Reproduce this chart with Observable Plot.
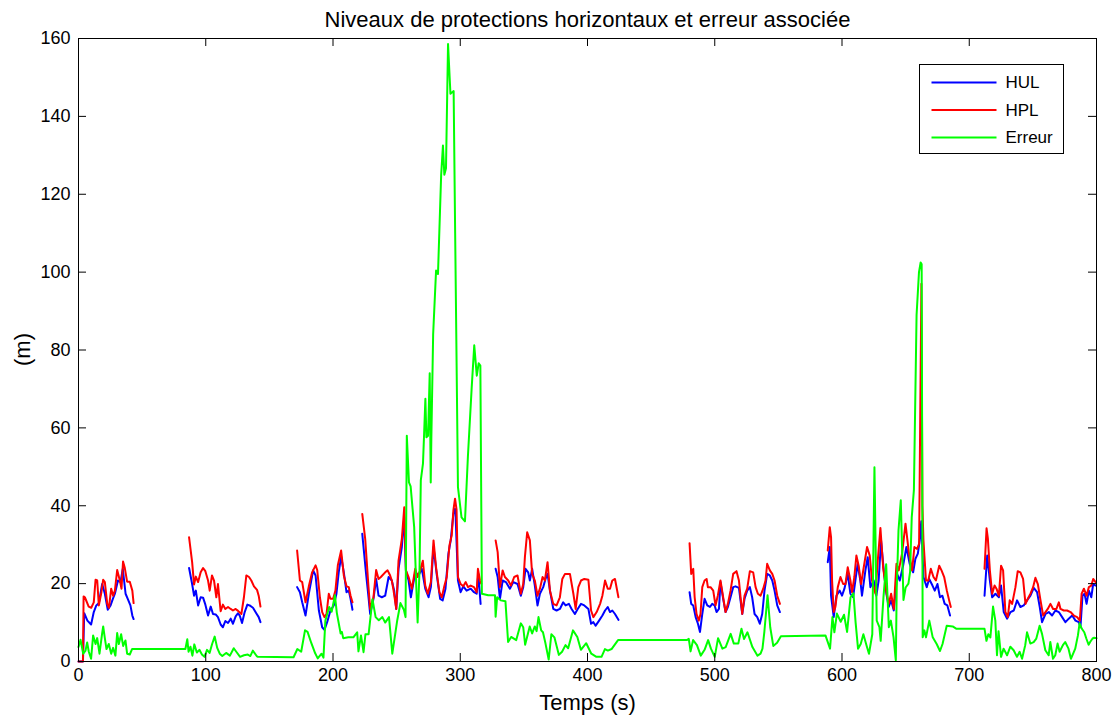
<!DOCTYPE html>
<html><head><meta charset="utf-8">
<script src="https://cdn.jsdelivr.net/npm/d3@7"></script>
<script src="https://cdn.jsdelivr.net/npm/@observablehq/plot@0.6"></script>
<style>body{margin:0;background:#fff;}</style>
</head><body><div id="chart"></div>
<script>
// Data: [time (s), value (m)]; null marks a gap in the series
const hulPoints = [
[0,0],[3.5,0],[4.5,12.4],[7,10.5],[9.9,9.5],[12,12.7],[14,14.4],[16,15],[18.6,19.9],[20.7,17.4],[23,13.3],[25.2,14.4],[27,16.1],[28.6,17.4],[31,20.8],[33,20.4],[34.8,23.8],[37,17.4],[38.7,16.1],[40.8,14.4],[42.3,11.8],[43.3,10.9],
null,
[86.9,24],[89.3,19.9],[90.8,16.9],[92.2,18.2],[94,14.4],[96,16.5],[97.9,16.4],[99.7,14.6],[101.8,11.8],[103.9,14.1],[105.7,12.2],[107.8,12.1],[109.6,11.4],[111.7,9.5],[113.5,8.8],[115.4,10.4],[117.5,9.9],[119.6,11],[121.4,9.7],[123.5,11.6],[125.4,12.4],[126.7,11.8],[128.5,9.9],[130.6,12.7],[132.7,14.6],[134.5,14.4],[137.1,13.8],[139.7,12.4],[141.6,11.4],[143,10.1],
null,
[171.8,19.1],[174,17.8],[175.8,15.2],[178.4,11.8],[181,17.4],[184.4,23.4],[186.3,22.1],[188.9,13.1],[191.5,8.8],[193.3,8.1],[195.4,10.1],[198,13.1],[200.6,14.4],[202.7,17.4],[204.5,22.9],[206.4,27],[208.5,22.9],[210.6,17.8],[212.4,18.2],[213.8,16.1],[215.3,13.3],
null,
[223,32.8],[226,22.5],[227.9,16.5],[229.2,12.2],[231.8,16.1],[233.9,21.2],[235.8,16.9],[238.4,16.5],[241,16.9],[243.7,21.7],[246.2,20.8],[248.1,18.2],[249.7,13.5],[251.5,23.8],[254.1,29.4],[256,37.1],[257.3,23.4],[259.4,20.8],[261.2,16.5],[264.6,22.9],[267.2,22.1],[269.8,23.8],[272.5,18.7],[275.1,16.5],[276.9,19.1],[279,29.4],[281.6,22.1],[284.2,16.1],[286.2,15.7],[288.4,18.7],[290.7,27.7],[292.5,31.1],[294.6,37.9],[295.9,39.2],[296.3,37.9],[298.2,20.8],[300.3,17.8],[302.4,19.3],[305,18.2],[308.2,18.7],[310.8,17.8],[312.9,17.4],[314.2,22.5],[316,14.8],
null,
[327.8,23.8],[329.4,21.7],[331.2,16.1],[333.3,20.8],[335.9,20.4],[339,18.7],[341.7,20.4],[345,19.9],[347.6,16.9],[349.5,19.1],[351.3,23.8],[353.4,22.9],[354.7,20.8],[356.5,23.8],[358.6,19.5],[360.7,14.4],[362.6,17.4],[365.2,19.1],[367,21.2],[368.6,22.5],[370.5,18.2],[373.1,13.5],[375.7,13.1],[378.3,13.5],[380.9,15.2],[382.8,14.4],[385.4,14.8],[387.5,13.5],[390.1,12.2],[392.3,13.5],[394.9,14.8],[397.5,14.4],[400.7,13.5],[402.8,9.7],[404.6,10.1],[406.4,9.2],[409.1,10.5],[411.7,11.8],[413.8,13.1],[415.9,14],[417.7,12.7],[419.5,13.1],[421.6,12.2],[424.3,10.7],
null,
[480.2,17.8],[481.5,14.8],[483.1,14.4],[485,11.4],[486.8,9.7],[488.4,7.6],[490.2,12.2],[492,16.1],[494.1,14.4],[496.2,14],[498,14.8],[499.9,14.4],[501.4,12.7],[503.3,13.5],[504.5,20.4],[506.6,16.1],[508.5,12.7],[510.3,14],[512.4,16.5],[514.5,19.1],[516.3,19.3],[519,18.9],[521.6,12.2],[523.4,16.1],[525.5,18.2],[527.6,19.1],[529.4,16.5],[531.3,12.2],[533.4,11.4],[535.4,9.7],[537.3,12.2],[539.1,18.2],[541.2,22.5],[543.3,22.1],[545.2,20.8],[547,18.2],[549.1,14.4],[551.2,12.7],
null,
[588.8,25.5],[590.4,29.4],[591.4,16.9],[593.5,11.4],[595.6,16.9],[598.2,18.2],[600,16.9],[601.9,18.7],[604.5,22.5],[606.6,17.4],[608.7,16.5],[610.5,20.8],[612.3,25.1],[614.4,20.8],[615.7,16.9],[618.4,23.4],[620.2,26.8],[622.3,19.1],[624.9,20.8],[627,16.9],[628.8,20.8],[630.7,31.1],[632.8,23.4],[634.9,17.4],[636.7,14],[638.6,15.7],[640.7,13.1],[643.3,22.5],[645.4,20.8],[648,24.6],[650.6,29.4],[653.2,25.1],[655.9,22.9],[657.7,26.4],[659.6,27.7],[661.1,31.1],[662.3,36],[664,21.7],[666.6,19.1],[668.5,21.2],[671.1,19.5],[672.9,18.2],[675,19.9],[677,16.5],[678.9,16.9],[680.7,14.8],[682.8,14.4],[684.9,11.8],
null,
[712,16.9],[714.1,27.2],[716.2,20.8],[718,16.5],[720.6,17.4],[723.3,16.5],[725,19.5],[727.1,12.7],[729.7,11],[732.4,12.7],[735,13.1],[737.6,15.7],[740.2,14],[742.8,14.4],[745.4,15.7],[748.1,16.9],[750.7,18.9],[753.3,17.8],[755.4,14],[757.2,10.1],[759.9,12.2],[762.5,12.7],[765.1,11.8],[767.7,13.1],[770.4,12.7],[773,11.4],[775.6,10.1],[778.2,11],[780.9,11.8],[783.5,10.5],[786.1,10.1],[787.4,8.8],[789,16.9],[790.6,17.4],[792.2,14.8],[794,18.2],[795.9,16.5],[797.4,19.9],[799.3,19.5]
];

const hplPoints = [
[0,0],[3.5,0],[4,16.7],[5,16.5],[8,14.1],[10,13.8],[12,15.2],[13.4,21],[14.7,20.8],[16,14.4],[18,17.8],[19.4,21],[20.7,20.4],[22.6,14.8],[23.9,13.8],[25.7,18.7],[27.2,16.9],[28.6,18.2],[30.4,23.5],[32.5,20.8],[33.8,18.7],[35,25.7],[36.4,24],[38.2,20.5],[40.3,20.5],[42.3,18.2],[43.3,15],
null,
[86.9,31.9],[89.3,25.5],[90.8,19.8],[92.2,21.8],[94,20.4],[96,22.9],[97.9,24],[99.7,23.2],[101.8,20.8],[103.1,18.2],[104.9,22.1],[106.5,20.8],[108.3,16.5],[109.6,19.9],[111.7,12.9],[113.5,14.6],[115.4,13.5],[117.5,14],[119.6,13.5],[121.4,13.1],[123.5,13.5],[125.4,13],[128,12.2],[130,16.5],[131.9,22.1],[134,21.7],[135.8,20.8],[137.9,19.3],[140.3,18.4],[141.6,16.9],[143,14.1],
null,
[171.8,28.5],[174,20.8],[175.8,20.4],[178.4,15.2],[181,19.3],[183.6,22.9],[186.3,24.7],[187.6,23.5],[189.7,16.5],[191.5,12.7],[193.3,11.4],[194.9,12.2],[196.7,17.4],[198,16.1],[200.1,16.1],[201.9,18.2],[203.8,24.7],[206.4,28.5],[208.5,22.1],[210.6,19.3],[212.4,19.1],[213.8,16.9],[215.3,15.2],
null,
[223,37.9],[225.3,31.5],[227.9,19.1],[229.2,13.5],[231.8,16.5],[233.9,23.5],[235.8,21.2],[237.6,21.7],[241,22.9],[242.9,23.4],[244.9,22.1],[246.2,20.8],[247.6,18.2],[249.7,13.5],[251.5,25.9],[254.1,31.5],[256,39.6],[257.3,23.4],[259.4,21.7],[262,18.7],[264.6,23.8],[266.4,21.7],[268.5,23.4],[270.6,25.9],[272.5,19.5],[274.5,17.4],[276.9,20.4],[279,31.1],[281,24.2],[283.6,17.8],[285.5,16.5],[287.3,19.1],[289.4,21.7],[291.5,29.8],[293.3,32.4],[294.6,38.8],[295.9,41.8],[297.1,39],[298.2,21.7],[300.3,19.9],[302.4,19.3],[304.3,20.4],[306.1,19.1],[308.2,19.5],[310.8,19.1],[312.9,17.8],[313.9,23.8],[315.5,20.8],[316.5,20],
null,
[327.8,31.1],[329.4,28.1],[331.2,19.1],[333.3,23.4],[335.1,21.7],[337.7,20.8],[339.8,19.5],[342.4,21.7],[345,22.1],[347.6,17.4],[349.5,19.9],[350.8,26.8],[352.6,33.2],[354.7,31.1],[356.5,22.5],[358.6,20.8],[360.7,16.9],[362.6,18.7],[364.7,21.7],[366.5,20.8],[368.6,25.5],[370.5,18.2],[373.1,14.8],[375.7,14.4],[378.3,16.5],[380.2,21.2],[382.3,22.5],[386.2,22.5],[388.9,17.4],[390.7,13.5],[392.8,19.1],[394.9,20.8],[397.5,21.2],[400.7,21],[402.8,13.1],[404.6,11.4],[407.2,12.7],[409.9,14.8],[411.7,16.9],[413.8,20.8],[415.9,18.7],[417.7,18.7],[419.5,20.8],[421.6,21.2],[424.3,16.5],
null,
[480.2,30.4],[481.5,22.5],[483.1,23.8],[484.2,16.5],[485.7,12.2],[487.5,10.5],[488.8,12.2],[490.2,19.1],[492,20.8],[493.6,21.2],[494.6,19.1],[496.7,19.1],[498.8,18.2],[500.6,14.4],[502.4,16.9],[504.5,20.8],[506.6,16.5],[508.5,12.7],[510.3,14.8],[512.4,18.2],[514.5,22.5],[517.1,23.2],[519,20.8],[521.6,12.2],[523.4,16.9],[525.5,18.7],[527.6,23.2],[530.2,22.9],[532.1,19.1],[533.9,17.4],[536,16.9],[538.1,18.7],[539.9,20.8],[541.2,25.1],[543.3,23.4],[545.2,22.5],[547,20.8],[549.1,16.9],[551.2,14.8],
null,
[588.8,28.5],[590.4,34.5],[591.4,31.9],[592.2,20.8],[593.5,12.7],[594.8,14],[596.7,19.1],[598.8,21.7],[600.9,19.9],[602.7,19.9],[604.5,24.2],[606.6,20.8],[607.9,17.8],[609.7,21.7],[611.3,27.2],[613.1,24.6],[615,19.9],[617.1,24.2],[619.7,29.4],[621.8,27.2],[623.6,20.8],[626.3,17.4],[628.1,25.9],[630.2,34.3],[632.3,24.2],[634.9,17.8],[636.7,14.8],[638.6,17.4],[640.7,13.5],[642.8,25.1],[644.6,23.4],[647.2,27.7],[649.9,35.4],[652.5,28.1],[655.1,23.4],[656.9,29.4],[659,28.9],[660.6,30.2],[662.4,97],[663.2,40],[664,31.1],[666,20.8],[667.8,20.8],[669.8,23.8],[671.9,21.7],[673.8,20.8],[676.4,24.6],[678.2,23.4],[680.3,21.7],[682.4,18.2],[684.2,15.7],[685.5,14],
null,
[712,23.8],[713.6,34.2],[714.6,31.7],[716.2,23.4],[718,17.4],[719.9,19.5],[721.4,18.7],[723.3,16.9],[725,24.6],[726.6,23.4],[728.4,12.7],[730.3,11.4],[731.8,15.7],[733.7,14.8],[736.3,19.1],[738.1,23.2],[740.2,22.9],[742.3,21.2],[744.2,14.8],[746,16.1],[748.1,17.4],[750.2,19.1],[752,21.5],[753.9,19.9],[756,15.7],[758.1,11.8],[759.9,12.7],[761.7,13.5],[763.8,14.8],[765.9,13.5],[768.5,13.5],[770.4,15.2],[771.7,13.5],[774.3,13.1],[776.9,13.1],[779.6,12.7],[782.2,11.8],[784.8,11.4],[786.9,10.5],[788.3,17.4],[790.1,18.7],[792.2,16.9],[794,19.1],[795.9,19.5],[797.4,21.2],[799.3,20.4]
];

const errorPoints = [
[0,3.7],[1.6,5.6],[3.7,2],[5.5,2.8],[6.8,4.9],[8.1,2.5],[9.9,0.7],[11.5,6.7],[13.4,4.5],[14.7,6],[16.5,2],[18.6,7.3],[19.4,9],[20.7,6],[22,3.2],[23.8,4.5],[25.7,2],[27.2,3.5],[29,1.5],[30.4,7.3],[31.7,4.5],[33.5,7],[35.1,4],[36.9,5.4],[38.2,2],[40.3,1.8],[42.1,3.2],
[84,3.2],[85.5,5.7],[86.5,2.5],[88,3.8],[89.5,1.5],[91,4.4],[93,2.3],[95,3],[97,1.8],[99,1.2],[101,3],[103,2.2],[105,4.5],[107,6.4],[109,3.5],[111,2],[113,1.4],[116,2.2],[119,1.5],[122,3.4],[124,2.5],[127,1.2],[130,1.6],[133,1.8],[135,1.4],[137,2.8],[140,1.4],[141,1.2],
[169,1.1],[172,3.2],[175,2.5],[178,8],[180,7.6],[183,4.7],[186,2.1],[188,0.8],[191,2],[192.5,1],[194,10.5],[197,14],[199,12.8],[201.5,17],[203,12.5],[206,7.2],[207,7.6],[208,6],[212,6.2],[216,6.2],[219,7.5],[220,2.6],[222,6.7],[224,2.4],[225.5,7],[228,7],[231,16],[233.5,11.4],[236,10.6],[238.8,11.4],[241,10],[244,11.4],[246.6,2],[250.5,10.6],[253,15],[255.7,13.3],[257,11.4],[258,58],[259.7,46],[261,45],[263.8,34.5],[265,23.4],[266.5,10],[268,23.5],[269,46.5],[270.7,50.8],[271.5,57.6],[272.6,67.5],[273.4,57.6],[274.7,58],[276,74],[276.8,46],[277.3,57.6],[278.7,84],[281,100.4],[282.5,99.5],[285,125],[286.4,132.5],[287.5,125],[288.8,126.7],[290.4,158.6],[292.3,145.8],[294.8,146.5],[296,110],[298.2,44.8],[301,37],[303.7,36],[306,52.5],[309,70.4],[311,81.2],[313,73.4],[314.5,76.6],[315.8,76],[317,17.4],[322,17],[327.3,17],[327.8,11.5],[329,16.5],[331.8,15.7],[335.5,15.5],[337.6,5],[340,6.3],[344,5.5],[347.6,9.8],[349.5,8.8],[351,4.3],[354.6,9],[356.5,7.2],[358.6,9],[360,7.8],[361.5,11.4],[363.6,8],[365,7.5],[367,4.6],[369.5,0.5],[371.6,7],[374,6.2],[377.5,1.7],[380,2.5],[382.7,4.2],[384.8,3.4],[388.6,8],[392,6.3],[394.8,3],[399,4.7],[403,2],[407,1.2],[411,1.2],[413.7,3.2],[416,2.8],[418.9,3.2],[424,5.5],
[478,5.5],[479.6,5.8],[481,2.6],[483,5.5],[486,4.2],[489,1.5],[492,3],[494.8,5.5],[497,3.3],[500,1.2],[502.6,6],[506,3.3],[508.6,3.7],[512.5,7.1],[515,4.6],[518.5,4.6],[521,8.4],[523,5.8],[525.7,7.5],[529.6,3.7],[533.6,1.5],[536,2],[537.5,3.3],[539,7.7],[541.5,17],[543.6,8.8],[546,4],[549,4.8],[552,6.5],
[587,6.7],[590.6,3.3],[592.5,11.4],[594,7.5],[596,12.3],[599,10.2],[601.6,12],[604,7.6],[606.7,16.5],[609,17.5],[610.7,10],[612.6,3.3],[614.7,4.5],[616.8,7],[619.4,4],[621.2,2],[623.8,7],[625.5,49.9],[627.3,10.5],[629.4,8.8],[630.4,5.3],[632.6,16.6],[634.7,25],[636.8,8.8],[638.4,10.5],[640.5,6.2],[642.3,0.3],[643,18.6],[644.4,33.7],[646.2,41.4],[648.3,15.8],[650,19],[652.2,20],[653.5,23],[654.8,37],[656.5,44],[658.6,89],[660.5,100],[661.8,102.5],[662.6,102],[663.4,6.2],[664.7,8],[666,6.2],[668.6,10.5],[671.3,6.2],[674.4,4.5],[677,2.7],[679,4.5],[682.3,9.2],[687,9],[690,8.4],
[712,8.4],[713.5,5.3],[715,7],[716.6,6.2],[718.7,14.1],[720.5,10.5],[721.8,1.6],[723,7.8],[725,1.2],[727,3.3],[729.7,1.6],[732.3,3.8],[734.9,2.9],[737.5,1.2],[739.6,2.5],[741.5,0.7],[744,4.2],[745.4,7.5],[748,4.6],[750.6,5],[752.7,5.9],[755.3,9.2],[757.2,7.1],[759.8,2.9],[762.4,1.6],[763.7,5],[765.8,0.7],[767.6,1.6],[769.4,4.6],[771,2.5],[773.6,4.2],[775.4,5],[778,3.3],[779.9,0.7],[783.3,3.3],[785.4,6.7],[786.7,9.8],[788.5,8.4],[790.4,7.5],[792,5.9],[793.8,4.3],[795,5],[796.9,5.9],[798.2,6.1],[800,6]
];

const xTicks = [0, 100, 200, 300, 400, 500, 600, 700, 800];
const yTicks = [0, 20, 40, 60, 80, 100, 120, 140, 160];
const seriesNames = ["HUL", "HPL", "Erreur"];
const seriesColors = ["#0000ff", "#ff0000", "#00ff00"];
const titleText = "Niveaux de protections horizontaux et erreur associée";
const xLabel = "Temps (s)";
const yLabel = "(m)";

const toRows = pts => pts.map(p => p ? {t: p[0], v: p[1]} : {t: NaN, v: NaN});
const hul = toRows(hulPoints), hpl = toRows(hplPoints), err = toRows(errorPoints);

const W = 1115, H = 716, mL = 78, mR = 19, mT = 38, mB = 55;
const fw = W - mL - mR, fh = H - mT - mB, tk = 8;
const font = "'Liberation Sans', Arial, Helvetica, sans-serif";

const chart = Plot.plot({
  width: W, height: H, marginLeft: mL, marginRight: mR, marginTop: mT, marginBottom: mB,
  x: {domain: [0, 800]},
  y: {domain: [0, 160]},
  style: {fontFamily: font, background: "white", color: "black"},
  marks: [
    Plot.line(hul, {x: "t", y: "v", stroke: seriesColors[0], strokeWidth: 2}),
    Plot.line(hpl, {x: "t", y: "v", stroke: seriesColors[1], strokeWidth: 2}),
    Plot.line(err, {x: "t", y: "v", stroke: seriesColors[2], strokeWidth: 2}),
    Plot.frame({stroke: "black", strokeWidth: 1}),
    Plot.tickX(xTicks, {x: d => d, insetTop: fh - tk, stroke: "black"}),
    Plot.tickX(xTicks, {x: d => d, insetBottom: fh - tk, stroke: "black"}),
    Plot.tickY(yTicks, {y: d => d, insetRight: fw - tk, stroke: "black"}),
    Plot.tickY(yTicks, {y: d => d, insetLeft: fw - tk, stroke: "black"}),
    Plot.axisX({ticks: xTicks, tickSize: 0, tickPadding: 7, fontSize: 18, label: null}),
    Plot.axisY({ticks: yTicks, tickSize: 0, tickPadding: 8, fontSize: 18, label: null}),
    Plot.text([xLabel], {text: d => d, frameAnchor: "bottom", dy: 48, fontSize: 22}),
    Plot.text([titleText], {text: d => d, frameAnchor: "top", dy: -27, fontSize: 22})
  ]
});

const svg = d3.select(chart);
// Y axis label, rotated, centred on the plot frame
svg.append("text")
  .attr("transform", `translate(22,${mT + fh / 2}) rotate(-90)`)
  .attr("text-anchor", "middle").attr("dy", "0.35em")
  .attr("font-family", font).attr("font-size", 22).attr("fill", "black")
  .text(yLabel);

// Legend box (inside the plot, top-right)
const lg = svg.append("g").attr("transform", "translate(919.5,64.5)");
lg.append("rect").attr("width", 144).attr("height", 89).attr("fill", "white").attr("stroke", "black");
seriesNames.forEach((name, i) => {
  const y = 18 + i * 27.5;
  lg.append("line").attr("x1", 12).attr("x2", 77).attr("y1", y).attr("y2", y)
    .attr("stroke", seriesColors[i]).attr("stroke-width", 2);
  lg.append("text").attr("x", 86).attr("y", y).attr("dy", "0.35em")
    .attr("text-anchor", "start").attr("fill", "black")
    .attr("font-family", font).attr("font-size", 17).text(name);
});

document.getElementById("chart").appendChild(chart);
</script>
</body></html>
